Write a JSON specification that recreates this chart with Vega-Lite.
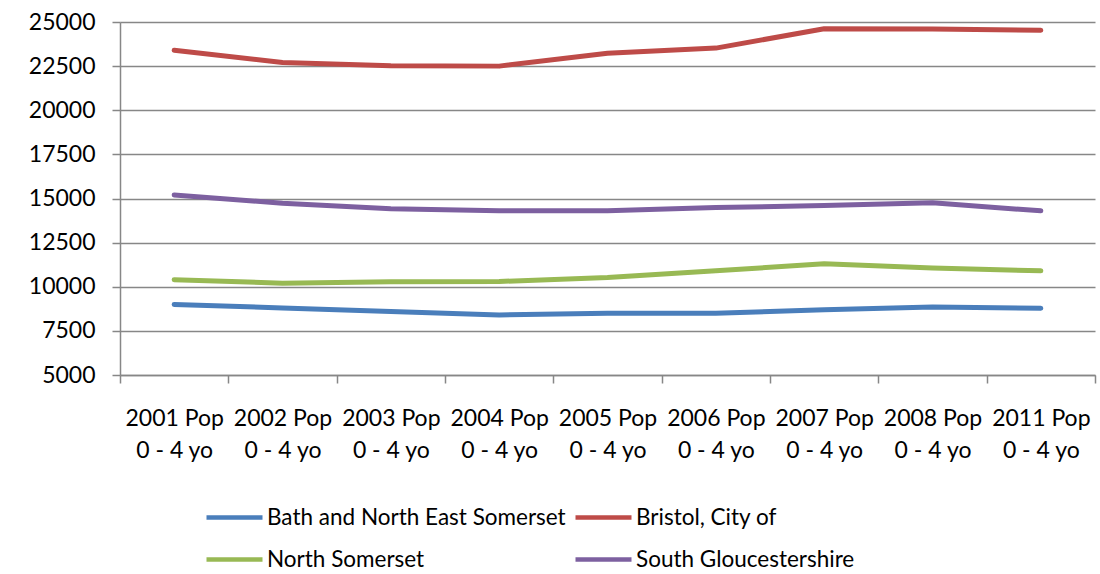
{
  "$schema": "https://vega.github.io/schema/vega-lite/v6.json",
  "width": 975,
  "height": 353,
  "autosize": {"type": "none"},
  "padding": {"left": 120, "top": 22, "right": 5, "bottom": 199},
  "background": "white",
  "config": {
    "view": {"stroke": null},
    "font": "Lato",
    "axis": {"labelFont": "Lato", "labelColor": "#000000", "labelFontSize": 23},
    "legend": {"labelFont": "Lato"}
  },
  "data": {
    "values": [
      {"period": "2001 Pop 0 - 4 yo", "area": "Bath and North East Somerset", "pop": 9000},
      {"period": "2002 Pop 0 - 4 yo", "area": "Bath and North East Somerset", "pop": 8800},
      {"period": "2003 Pop 0 - 4 yo", "area": "Bath and North East Somerset", "pop": 8600},
      {"period": "2004 Pop 0 - 4 yo", "area": "Bath and North East Somerset", "pop": 8400},
      {"period": "2005 Pop 0 - 4 yo", "area": "Bath and North East Somerset", "pop": 8500},
      {"period": "2006 Pop 0 - 4 yo", "area": "Bath and North East Somerset", "pop": 8500},
      {"period": "2007 Pop 0 - 4 yo", "area": "Bath and North East Somerset", "pop": 8700},
      {"period": "2008 Pop 0 - 4 yo", "area": "Bath and North East Somerset", "pop": 8850},
      {"period": "2011 Pop 0 - 4 yo", "area": "Bath and North East Somerset", "pop": 8780},
      {"period": "2001 Pop 0 - 4 yo", "area": "Bristol, City of", "pop": 23400},
      {"period": "2002 Pop 0 - 4 yo", "area": "Bristol, City of", "pop": 22700},
      {"period": "2003 Pop 0 - 4 yo", "area": "Bristol, City of", "pop": 22520},
      {"period": "2004 Pop 0 - 4 yo", "area": "Bristol, City of", "pop": 22500},
      {"period": "2005 Pop 0 - 4 yo", "area": "Bristol, City of", "pop": 23230},
      {"period": "2006 Pop 0 - 4 yo", "area": "Bristol, City of", "pop": 23520},
      {"period": "2007 Pop 0 - 4 yo", "area": "Bristol, City of", "pop": 24620},
      {"period": "2008 Pop 0 - 4 yo", "area": "Bristol, City of", "pop": 24610},
      {"period": "2011 Pop 0 - 4 yo", "area": "Bristol, City of", "pop": 24530},
      {"period": "2001 Pop 0 - 4 yo", "area": "North Somerset", "pop": 10400},
      {"period": "2002 Pop 0 - 4 yo", "area": "North Somerset", "pop": 10200},
      {"period": "2003 Pop 0 - 4 yo", "area": "North Somerset", "pop": 10290},
      {"period": "2004 Pop 0 - 4 yo", "area": "North Somerset", "pop": 10300},
      {"period": "2005 Pop 0 - 4 yo", "area": "North Somerset", "pop": 10520},
      {"period": "2006 Pop 0 - 4 yo", "area": "North Somerset", "pop": 10900},
      {"period": "2007 Pop 0 - 4 yo", "area": "North Somerset", "pop": 11300},
      {"period": "2008 Pop 0 - 4 yo", "area": "North Somerset", "pop": 11060},
      {"period": "2011 Pop 0 - 4 yo", "area": "North Somerset", "pop": 10900},
      {"period": "2001 Pop 0 - 4 yo", "area": "South Gloucestershire", "pop": 15200},
      {"period": "2002 Pop 0 - 4 yo", "area": "South Gloucestershire", "pop": 14730},
      {"period": "2003 Pop 0 - 4 yo", "area": "South Gloucestershire", "pop": 14420},
      {"period": "2004 Pop 0 - 4 yo", "area": "South Gloucestershire", "pop": 14310},
      {"period": "2005 Pop 0 - 4 yo", "area": "South Gloucestershire", "pop": 14310},
      {"period": "2006 Pop 0 - 4 yo", "area": "South Gloucestershire", "pop": 14490},
      {"period": "2007 Pop 0 - 4 yo", "area": "South Gloucestershire", "pop": 14600},
      {"period": "2008 Pop 0 - 4 yo", "area": "South Gloucestershire", "pop": 14760},
      {"period": "2011 Pop 0 - 4 yo", "area": "South Gloucestershire", "pop": 14300}
    ]
  },
  "mark": {"type": "line", "strokeWidth": 5, "strokeCap": "round", "strokeJoin": "round"},
  "encoding": {
    "x": {
      "field": "period",
      "type": "nominal",
      "sort": null,
      "scale": {"type": "band", "paddingInner": 0, "paddingOuter": 0},
      "axis": {
        "title": null,
        "labelAngle": 0,
        "labelExpr": "[slice(datum.label, 0, 8), slice(datum.label, 9)]",
        "labelLineHeight": 32,
        "labelPadding": 24,
        "labelBaseline": "top",
        "tickBand": "extent",
        "tickSize": 8,
        "tickColor": "#878787",
        "tickWidth": 1.5,
        "domainColor": "#878787",
        "domainWidth": 1.5,
        "grid": false
      }
    },
    "y": {
      "field": "pop",
      "type": "quantitative",
      "scale": {"domain": [5000, 25000], "nice": false, "zero": false},
      "axis": {
        "title": null,
        "values": [5000, 7500, 10000, 12500, 15000, 17500, 20000, 22500, 25000],
        "format": "d",
        "labelPadding": 17,
        "tickSize": 8,
        "tickColor": "#878787",
        "tickWidth": 1.5,
        "domainColor": "#878787",
        "domainWidth": 1.5,
        "grid": true,
        "gridColor": "#878787",
        "gridWidth": 1.5
      }
    },
    "color": {
      "field": "area",
      "type": "nominal",
      "scale": {
        "domain": ["Bath and North East Somerset", "Bristol, City of", "North Somerset", "South Gloucestershire"],
        "range": ["#4A7EBB", "#BE4B48", "#98B954", "#7D60A0"]
      },
      "legend": {
        "title": null,
        "orient": "none",
        "legendX": 84,
        "legendY": 465,
        "direction": "horizontal",
        "columns": 2,
        "symbolType": "stroke",
        "symbolSize": 3136,
        "symbolStrokeWidth": 4.5,
        "labelFontSize": 22.5,
        "labelColor": "#000000",
        "labelOffset": 2,
        "labelLimit": 400,
        "columnPadding": 0,
        "rowPadding": -12
      }
    }
  }
}
